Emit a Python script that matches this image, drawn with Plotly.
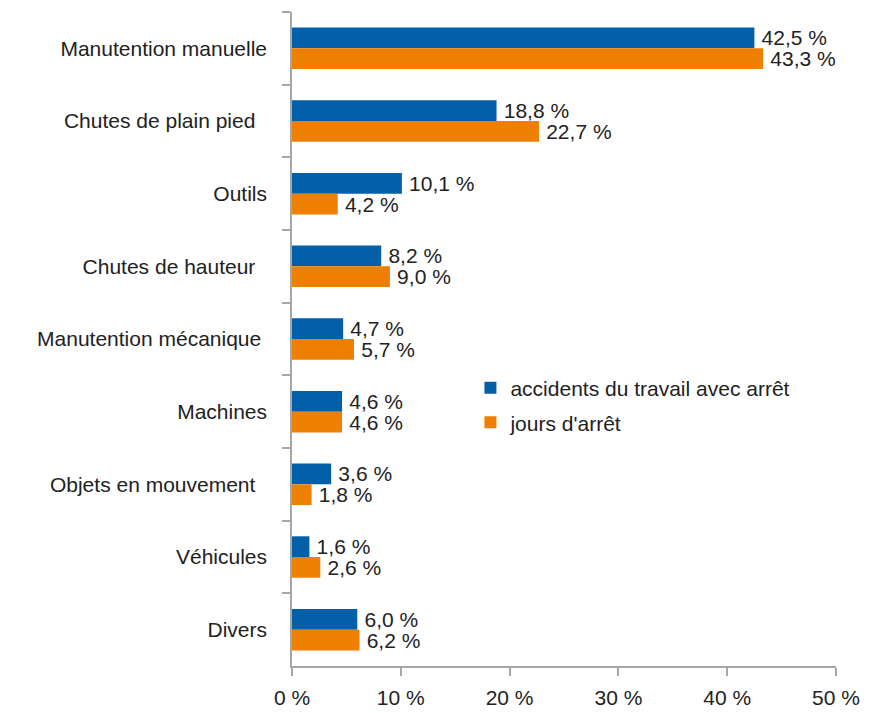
import plotly.graph_objects as go

categories = [
    "Manutention manuelle",
    "Chutes de plain pied\u00a0\u00a0",
    "Outils",
    "Chutes de hauteur\u00a0\u00a0",
    "Manutention mécanique\u00a0",
    "Machines",
    "Objets en mouvement\u00a0\u00a0",
    "Véhicules",
    "Divers",
]
accidents = [42.5, 18.8, 10.1, 8.2, 4.7, 4.6, 3.6, 1.6, 6.0]
jours = [43.3, 22.7, 4.2, 9.0, 5.7, 4.6, 1.8, 2.6, 6.2]
series_names = ["accidents du travail avec arrêt", "jours d'arrêt"]
x_tickvals = [0, 10, 20, 30, 40, 50]
x_ticktext = ["0 %", "10 %", "20 %", "30 %", "40 %", "50 %"]

BLUE = "#0360A8"
ORANGE = "#EE7F00"
FONT = "Liberation Sans, Arial, sans-serif"
FS = 21
TXT = "#222222"


def fmt(v):
    return "\u2009" + f"{v:.1f} %".replace(".", ",")


fig = go.Figure()
for name, vals, col, lg in [(series_names[0], accidents, BLUE, "legend"),
                            (series_names[1], jours, ORANGE, "legend2")]:
    fig.add_trace(go.Bar(
        y=categories, x=vals, orientation="h", name=name,
        marker=dict(color=col, line=dict(width=0)),
        text=[fmt(v) for v in vals], textposition="outside",
        constraintext="none",
        textfont=dict(family=FONT, size=FS, color=TXT),
        cliponaxis=False, legend=lg,
    ))

leg_common = dict(xanchor="left", yanchor="middle", bgcolor="rgba(0,0,0,0)",
                  font=dict(family=FONT, size=FS, color=TXT))
fig.update_layout(
    width=891, height=713,
    margin=dict(l=292, r=55, t=12, b=47, autoexpand=False),
    paper_bgcolor="white", plot_bgcolor="white",
    barmode="group", bargap=0.43, bargroupgap=0,
    font=dict(family=FONT, size=FS, color=TXT),
    showlegend=True,
    legend=dict(x=0.328, y=0.425, **leg_common),
    legend2=dict(x=0.328, y=0.372, **leg_common),
)
fig.update_xaxes(
    range=[0, 50], tickvals=x_tickvals, ticktext=x_ticktext,
    showgrid=False, zeroline=False, automargin=False,
    showline=True, linecolor="#A6A6A6", linewidth=1.5,
    ticks="outside", ticklen=8, tickcolor="#A6A6A6", tickwidth=1.5,
    tickfont=dict(family=FONT, size=FS, color=TXT),
    ticklabelstandoff=4,
)
fig.update_yaxes(
    categoryorder="array", categoryarray=categories, autorange="reversed",
    showgrid=False, zeroline=False, automargin=False,
    showline=True, linecolor="#A6A6A6", linewidth=1.5,
    ticks="outside", tickson="boundaries", ticklen=8, tickcolor="#A6A6A6", tickwidth=1.5,
    tickfont=dict(family=FONT, size=FS, color=TXT),
    ticklabelstandoff=19,
)

fig.write_html("out.html")
